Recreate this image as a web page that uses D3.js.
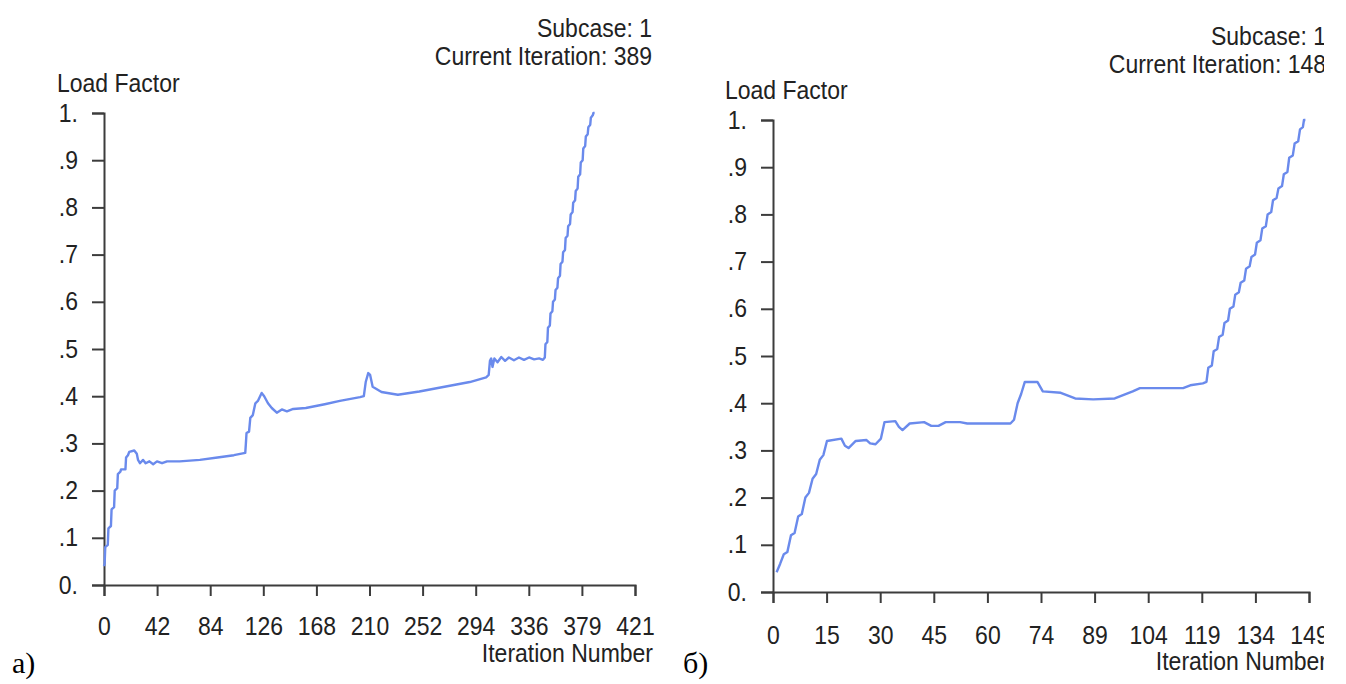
<!DOCTYPE html>
<html><head><meta charset="utf-8">
<script src="https://cdn.jsdelivr.net/npm/d3@7"></script>
<style>html,body{margin:0;padding:0;background:#fff;} svg{display:block;}</style>
</head><body>
<svg id="c" width="1346" height="684"></svg>
<script>
// ---------- data ----------
const yTickValues = [0, 0.1, 0.2, 0.3, 0.4, 0.5, 0.6, 0.7, 0.8, 0.9, 1.0];
const yTickLabels = ["0.", ".1", ".2", ".3", ".4", ".5", ".6", ".7", ".8", ".9", "1."];
const xTickLabelsA = ["0", "42", "84", "126", "168", "210", "252", "294", "336", "379", "421"];
const xTickLabelsB = ["0", "15", "30", "45", "60", "74", "89", "104", "119", "134", "149"];
const xMaxA = 421, xMaxB = 149;
const subcaseA = "Subcase: 1", iterTextA = "Current Iteration: 389";
const subcaseB = "Subcase: 1", iterTextB = "Current Iteration: 148";
const panelLabelA = "a)", panelLabelB = "б)";

// [iteration, load factor]
const seriesA = [
 [0,0.04],[0.5,0.045],[1,0.08],[3,0.085],[3.5,0.12],[5.5,0.125],[6,0.16],[8,0.165],[8.5,0.20],[10.5,0.205],
 [11,0.235],[13,0.24],[13.5,0.245],[17,0.245],[17.5,0.27],[19,0.275],[20,0.282],[24,0.285],[26,0.278],[27,0.265],
 [28.5,0.258],[31,0.265],[33,0.258],[36,0.262],[39,0.256],[42,0.262],[46,0.258],[50,0.262],[60,0.262],[76,0.265],
 [90,0.27],[103,0.275],[112,0.28],[112.5,0.30],[113,0.322],[115,0.325],[116,0.354],[118,0.36],[120,0.385],[122,0.39],
 [125,0.407],[127,0.40],[130,0.385],[133,0.375],[137,0.365],[141,0.372],[145,0.368],[150,0.373],[160,0.375],[175,0.383],
 [187,0.39],[203,0.398],[206,0.40],[207.5,0.43],[209.5,0.449],[211,0.445],[213,0.42],[220,0.409],[233,0.403],[250,0.41],
 [270,0.42],[290,0.43],[303,0.44],[305,0.445],[306,0.475],[307,0.48],[308,0.462],[309.5,0.48],[312,0.472],[315,0.483],
 [318,0.475],[321,0.482],[325,0.476],[329,0.482],[333,0.477],[337,0.482],[341,0.478],[345,0.48],[348,0.477],
 [349.5,0.482],[350,0.51],[351.5,0.515],[352,0.545],[353.5,0.55],[354,0.575],[355.5,0.58],[356,0.60],[357.5,0.605],
 [358,0.625],[359.5,0.63],[360,0.65],[361.5,0.655],[362,0.68],[363.5,0.685],[364,0.705],[365.5,0.71],[366,0.735],
 [367.5,0.74],[368,0.76],[369.5,0.765],[370,0.785],[371.5,0.79],[372,0.81],[373.5,0.815],[374,0.835],[375.5,0.84],
 [376,0.865],[377.5,0.87],[378,0.895],[379.5,0.90],[380,0.925],[381.5,0.93],[382,0.95],[383.5,0.955],[384,0.97],
 [385.5,0.975],[386,0.99],[387.5,0.995],[388,1.0],[389,1.0]
];
const seriesB = [
 [1,0.042],[2,0.06],[3,0.08],[4,0.085],[5,0.12],[6,0.125],[7,0.16],[8,0.165],[9,0.20],[10,0.21],
 [11,0.24],[12,0.25],[13,0.28],[14,0.29],[15,0.32],[19,0.325],[20,0.31],[21,0.305],[23,0.32],[26,0.322],
 [27,0.315],[28.5,0.313],[30,0.325],[31,0.36],[34,0.362],[35,0.35],[36,0.343],[38,0.357],[42,0.36],[44,0.352],
 [46,0.352],[48,0.36],[52,0.36],[54,0.357],[66,0.357],[67,0.365],[68,0.40],[69,0.42],[70,0.445],[73.5,0.445],
 [75,0.425],[80,0.422],[84,0.41],[89,0.408],[95,0.41],[100,0.425],[102,0.432],[114,0.432],[116,0.438],[119.5,0.442],
 [120.5,0.445],[121,0.475],[122,0.48],[122.5,0.51],[123.5,0.515],[124,0.54],[125,0.545],[125.5,0.57],[126.5,0.575],
 [127,0.60],[128,0.605],[128.5,0.63],[129.5,0.635],[130,0.655],[131,0.66],[131.5,0.685],[132.5,0.69],[133,0.71],
 [134,0.715],[134.5,0.74],[135.5,0.745],[136,0.77],[137,0.775],[137.5,0.80],[138.5,0.805],[139,0.83],[140,0.835],
 [140.5,0.855],[141.5,0.86],[142,0.885],[143,0.89],[143.5,0.92],[144.5,0.925],[145,0.95],[146,0.955],[146.5,0.98],
 [147.3,0.985],[147.6,1.0],[148,1.0]
];

// ---------- layout ----------
const FONT = "'Liberation Sans', Arial, sans-serif";
const FS = 23, SY = 1.15;
const AXIS_COL = "#3c3c3c", TEXT_COL = "#222222", LINE_COL = "#6a8aec";

const panels = [
  {series: seriesA, xMax: xMaxA, xLabels: xTickLabelsA, sub: subcaseA, it: iterTextA, pl: panelLabelA,
   x0: 104, x1: 635, y0: 585, y1: 113, right: 652, subY: 37, itY: 65, lfX: 57, lfY: 92,
   xlabY: 50, inY: 662, plX: 12, plY: 673, clip: null},
  {series: seriesB, xMax: xMaxB, xLabels: xTickLabelsB, sub: subcaseB, it: iterTextB, pl: panelLabelB,
   x0: 773, x1: 1309, y0: 592, y1: 120, right: 1326, subY: 45, itY: 73, lfX: 725, lfY: 99,
   xlabY: 52, inY: 670, plX: 683, plY: 673, clip: 1324}
];

const svg = d3.select("#c");
const defs = svg.append("defs");

function label(g, x, y, txt, anchor) {
  return g.append("text")
    .attr("transform", `translate(${x},${y}) scale(1,${SY})`)
    .attr("text-anchor", anchor || "start")
    .attr("font-family", FONT).attr("font-size", FS)
    .attr("fill", TEXT_COL).text(txt);
}

panels.forEach((p, i) => {
  let g = svg.append("g");
  if (p.clip) {
    defs.append("clipPath").attr("id", "clip" + i)
      .append("rect").attr("x", 0).attr("y", 0).attr("width", p.clip).attr("height", 684);
    g.attr("clip-path", `url(#clip${i})`);
  }
  const x = d3.scaleLinear().domain([0, p.xMax]).range([p.x0, p.x1]);
  const y = d3.scaleLinear().domain([0, 1]).range([p.y0, p.y1]);

  // y axis
  const ya = g.append("g").attr("transform", `translate(${p.x0},0)`)
    .call(d3.axisLeft(y).tickValues(yTickValues).tickSizeInner(12).tickSizeOuter(12).tickPadding(14)
      .tickFormat((d, k) => yTickLabels[k]));
  // x axis
  const xTicks = p.xLabels.map((_, k) => k * p.xMax / 10);
  const xa = g.append("g").attr("transform", `translate(0,${p.y0})`)
    .call(d3.axisBottom(x).tickValues(xTicks).tickSizeInner(11).tickSizeOuter(11)
      .tickFormat((d, k) => p.xLabels[k]));

  [ya, xa].forEach(a => {
    a.select(".domain").attr("stroke", AXIS_COL).attr("stroke-width", 2);
    a.selectAll(".tick line").attr("stroke", AXIS_COL).attr("stroke-width", 2);
    a.selectAll("text").attr("font-family", FONT).attr("font-size", FS).attr("fill", TEXT_COL);
  });
  ya.selectAll("text").attr("dy", null).attr("y", 8 / SY).attr("transform", `scale(1,${SY})`);
  xa.selectAll("text").attr("dy", null).attr("y", p.xlabY / SY).attr("transform", `scale(1,${SY})`);

  // curve
  const line = d3.line().x(d => x(d[0])).y(d => y(d[1]));
  g.append("path").datum(p.series).attr("d", line)
    .attr("fill", "none").attr("stroke", LINE_COL).attr("stroke-width", 2.4)
    .attr("stroke-linejoin", "round");

  // texts
  label(g, p.right, p.subY, p.sub, "end");
  label(g, p.right, p.itY, p.it, "end");
  label(g, p.lfX, p.lfY, "Load Factor", "start");
  label(g, p.right + 1, p.inY, "Iteration Number", "end");

  svg.append("text").attr("x", p.plX).attr("y", p.plY)
    .attr("font-family", "'Liberation Serif', 'Times New Roman', serif").attr("font-size", 30)
    .attr("fill", "#000").text(p.pl);
});
</script>
</body></html>
